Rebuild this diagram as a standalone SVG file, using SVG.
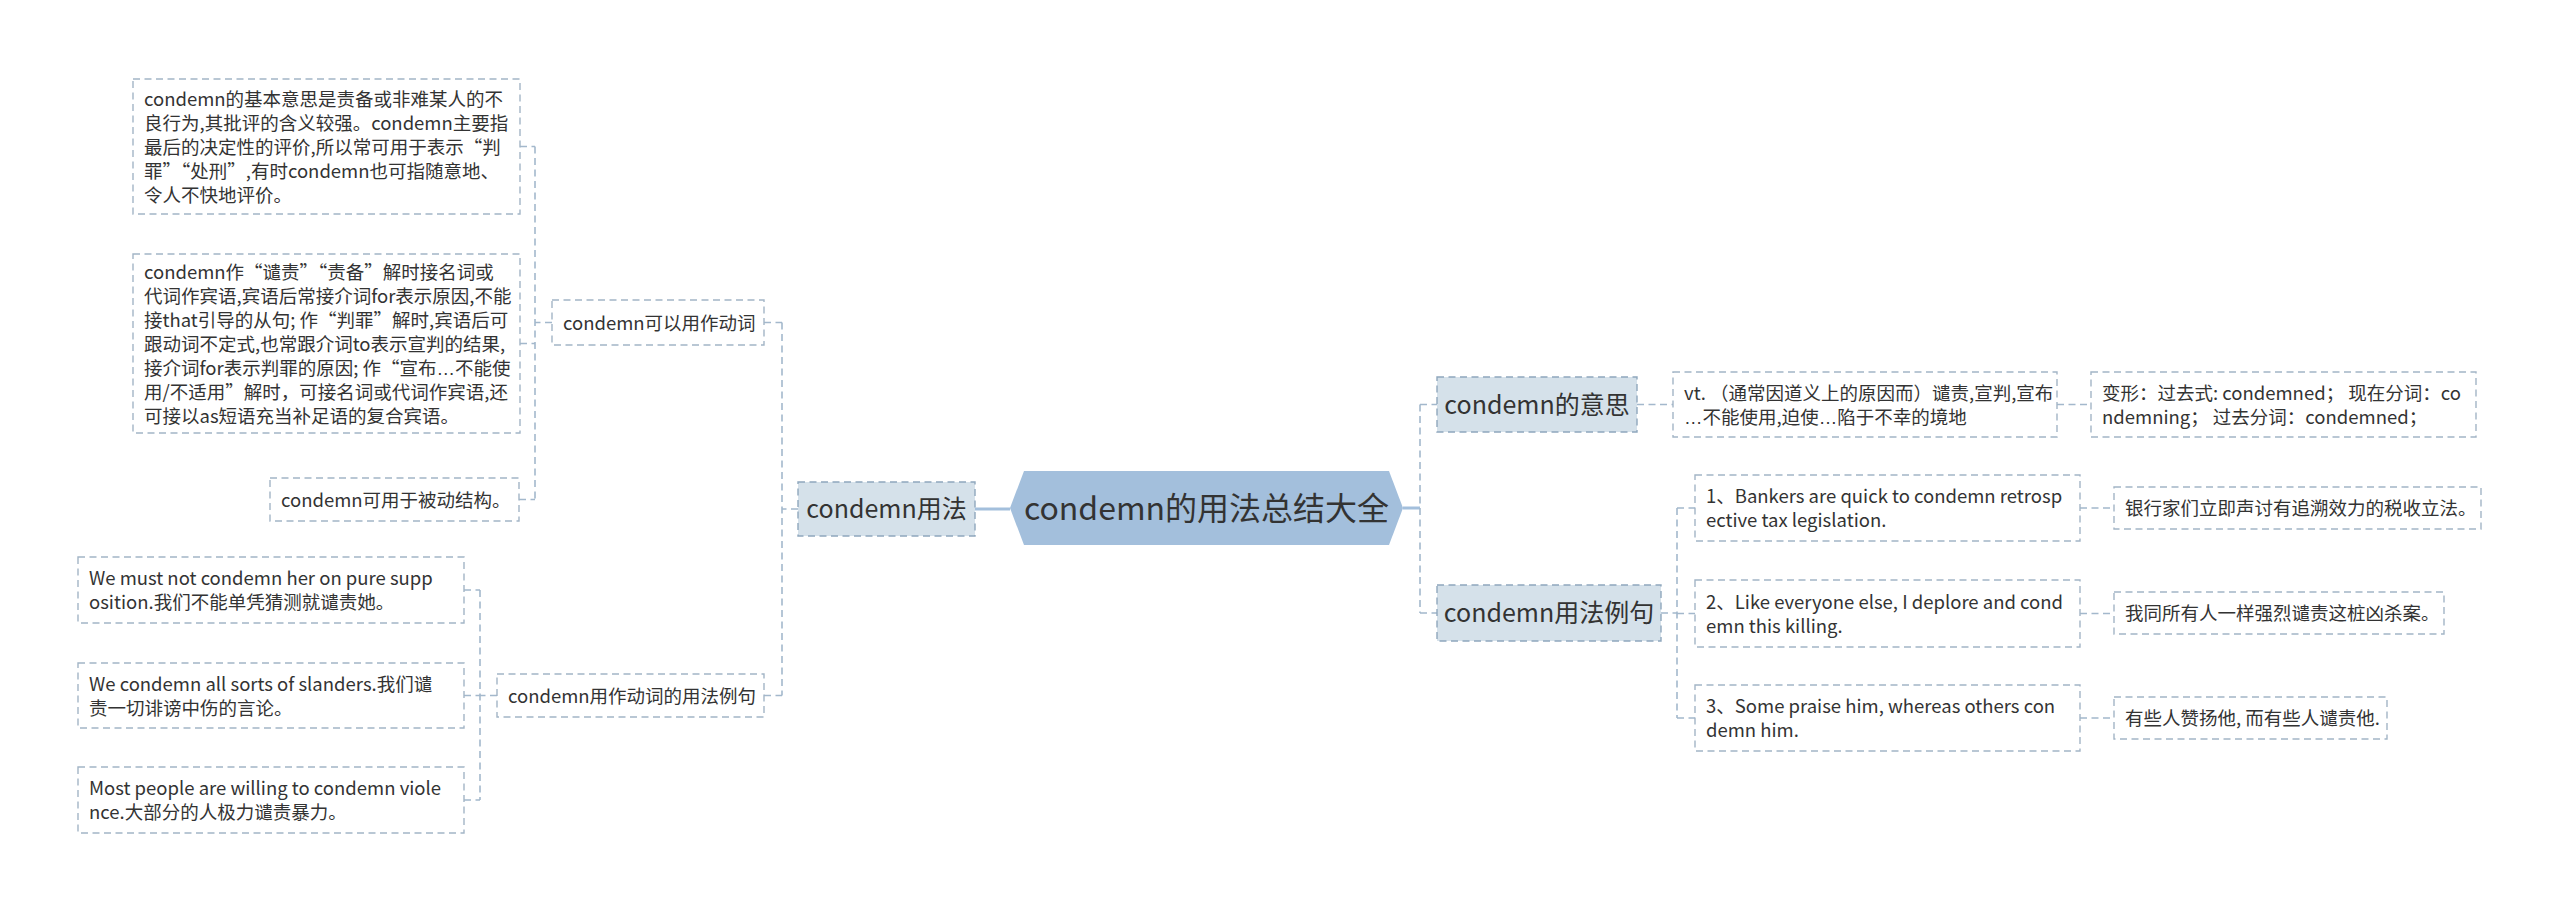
<svg xmlns="http://www.w3.org/2000/svg" width="2560" height="912" viewBox="0 0 2560 912">
<style>
.bg{fill:#ffffff}
.box{fill:#ffffff;stroke:#a3b5c6;stroke-width:1.4;stroke-dasharray:7 4.5}
.l1{fill:#d5e1ea;stroke:#8fa7bd;stroke-width:1.4;stroke-dasharray:7 4.5}
.hex{fill:#a3bfdc}
.t{font-family:"Noto Sans CJK SC","Microsoft YaHei",sans-serif;font-size:18.5px;fill:#333333}
.t1{font-family:"Noto Sans CJK SC","Microsoft YaHei",sans-serif;font-size:25px;fill:#333333;text-anchor:middle}
.t0{font-family:"Noto Sans CJK SC","Microsoft YaHei",sans-serif;font-size:32px;fill:#333333;text-anchor:middle}
.el{font-family:"Liberation Sans",sans-serif}
.conn{fill:none;stroke:#a3b8cc;stroke-width:1.6;stroke-dasharray:7 4.5}
.main{fill:none;stroke:#a3bfdc;stroke-width:3}
</style>
<rect class="bg" x="0" y="0" width="2560" height="912"/>
<g id="connectors">
  <path class="main" d="M975,509 H1010"/>
  <path class="main" d="M1403,508 H1420"/>
  <path class="conn" d="M798,509 H782 M782,322.5 V695.5 M764,322.5 H782 M764,695.5 H782"/>
  <path class="conn" d="M552,322.5 H535 M535,146.5 V499.5 M520,146.5 H535 M520,343.5 H535 M519,499.5 H535"/>
  <path class="conn" d="M497,695.5 H480 M480,590 V800 M464,590 H480 M464,695.5 H480 M464,800 H480"/>
  <path class="conn" d="M1420,404.5 V613 M1420,404.5 H1437 M1420,613 H1437"/>
  <path class="conn" d="M1637,404.5 H1673 M2057,404.5 H2091"/>
  <path class="conn" d="M1661,613 H1677 M1677,508 V718 M1677,508 H1695 M1677,613.5 H1695 M1677,718 H1695"/>
  <path class="conn" d="M2080,508 H2114 M2080,613.5 H2114 M2080,718 H2114"/>
</g>
<g id="root">
  <polygon class="hex" points="1010,508 1024,471 1389,471 1403,508 1389,545 1024,545"/>
  <text class="t0" x="1206.5" y="519.5">condemn的用法总结大全</text>
</g>
<g id="n-usage">
  <rect class="l1" x="798" y="482" width="177" height="54"/>
  <text class="t1" x="886.5" y="518">condemn用法</text>
</g>
<g id="n-verb">
  <rect class="box" x="552" y="300" width="212" height="45"/>
  <text class="t" x="563" y="329.5">condemn可以用作动词</text>
</g>
<g id="n-basic">
  <rect class="box" x="133" y="79" width="387" height="135"/>
  <text class="t" x="144" y="105.5"><tspan x="144">condemn的基本意思是责备或非难某人的不</tspan><tspan x="144" dy="24">良行为,其批评的含义较强。condemn主要指</tspan><tspan x="144" dy="24">最后的决定性的评价,所以常可用于表示“判</tspan><tspan x="144" dy="24">罪”“处刑”,有时condemn也可指随意地、</tspan><tspan x="144" dy="24">令人不快地评价。</tspan></text>
</g>
<g id="n-object">
  <rect class="box" x="133" y="254" width="387" height="179"/>
  <text class="t" x="144" y="278.5"><tspan x="144">condemn作“谴责”“责备”解时接名词或</tspan><tspan x="144" dy="24">代词作宾语,宾语后常接介词for表示原因,不能</tspan><tspan x="144" dy="24">接that引导的从句; 作“判罪”解时,宾语后可</tspan><tspan x="144" dy="24">跟动词不定式,也常跟介词to表示宣判的结果,</tspan><tspan x="144" dy="24">接介词for表示判罪的原因; 作“宣布<tspan class="el">…</tspan>不能使</tspan><tspan x="144" dy="24">用/不适用”解时，可接名词或代词作宾语,还</tspan><tspan x="144" dy="24">可接以as短语充当补足语的复合宾语。</tspan></text>
</g>
<g id="n-passive">
  <rect class="box" x="270" y="478" width="249" height="43"/>
  <text class="t" x="281" y="506.5">condemn可用于被动结构。</text>
</g>
<g id="n-verb-examples">
  <rect class="box" x="497" y="674" width="267" height="43"/>
  <text class="t" x="508" y="702.5">condemn用作动词的用法例句</text>
</g>
<g id="n-ex1">
  <rect class="box" x="78" y="557" width="386" height="66"/>
  <text class="t" x="89" y="585"><tspan x="89">We must not condemn her on pure supp</tspan><tspan x="89" dy="24">osition.我们不能单凭猜测就谴责她。</tspan></text>
</g>
<g id="n-ex2">
  <rect class="box" x="78" y="663" width="386" height="65"/>
  <text class="t" x="89" y="690.5"><tspan x="89">We condemn all sorts of slanders.我们谴</tspan><tspan x="89" dy="24">责一切诽谤中伤的言论。</tspan></text>
</g>
<g id="n-ex3">
  <rect class="box" x="78" y="767" width="386" height="66"/>
  <text class="t" x="89" y="795"><tspan x="89">Most people are willing to condemn viole</tspan><tspan x="89" dy="24">nce.大部分的人极力谴责暴力。</tspan></text>
</g>
<g id="n-meaning">
  <rect class="l1" x="1437" y="377" width="200" height="55"/>
  <text class="t1" x="1537" y="413.5">condemn的意思</text>
</g>
<g id="n-vt">
  <rect class="box" x="1673" y="372" width="384" height="65"/>
  <text class="t" x="1684" y="399.5"><tspan x="1684">vt. （通常因道义上的原因而）谴责,宣判,宣布</tspan><tspan x="1684" dy="24"><tspan class="el">…</tspan>不能使用,迫使<tspan class="el">…</tspan>陷于不幸的境地</tspan></text>
</g>
<g id="n-forms">
  <rect class="box" x="2091" y="372" width="385" height="65"/>
  <text class="t" x="2102" y="399.5"><tspan x="2102">变形：过去式: condemned； 现在分词：co</tspan><tspan x="2102" dy="24">ndemning； 过去分词：condemned；</tspan></text>
</g>
<g id="n-examples">
  <rect class="l1" x="1437" y="585" width="224" height="56"/>
  <text class="t1" x="1549" y="622">condemn用法例句</text>
</g>
<g id="n-s1">
  <rect class="box" x="1695" y="475" width="385" height="66"/>
  <text class="t" x="1706" y="503"><tspan x="1706">1、Bankers are quick to condemn retrosp</tspan><tspan x="1706" dy="24">ective tax legislation.</tspan></text>
</g>
<g id="n-s2">
  <rect class="box" x="1695" y="580" width="385" height="67"/>
  <text class="t" x="1706" y="608.5"><tspan x="1706">2、Like everyone else, I deplore and cond</tspan><tspan x="1706" dy="24">emn this killing.</tspan></text>
</g>
<g id="n-s3">
  <rect class="box" x="1695" y="685" width="385" height="66"/>
  <text class="t" x="1706" y="713"><tspan x="1706">3、Some praise him, whereas others con</tspan><tspan x="1706" dy="24">demn him.</tspan></text>
</g>
<g id="n-t1">
  <rect class="box" x="2114" y="487" width="367" height="42"/>
  <text class="t" x="2125" y="515">银行家们立即声讨有追溯效力的税收立法。</text>
</g>
<g id="n-t2">
  <rect class="box" x="2114" y="592" width="330" height="42"/>
  <text class="t" x="2125" y="620">我同所有人一样强烈谴责这桩凶杀案。</text>
</g>
<g id="n-t3">
  <rect class="box" x="2114" y="697" width="273" height="42"/>
  <text class="t" x="2125" y="725">有些人赞扬他, 而有些人谴责他.</text>
</g>
</svg>
